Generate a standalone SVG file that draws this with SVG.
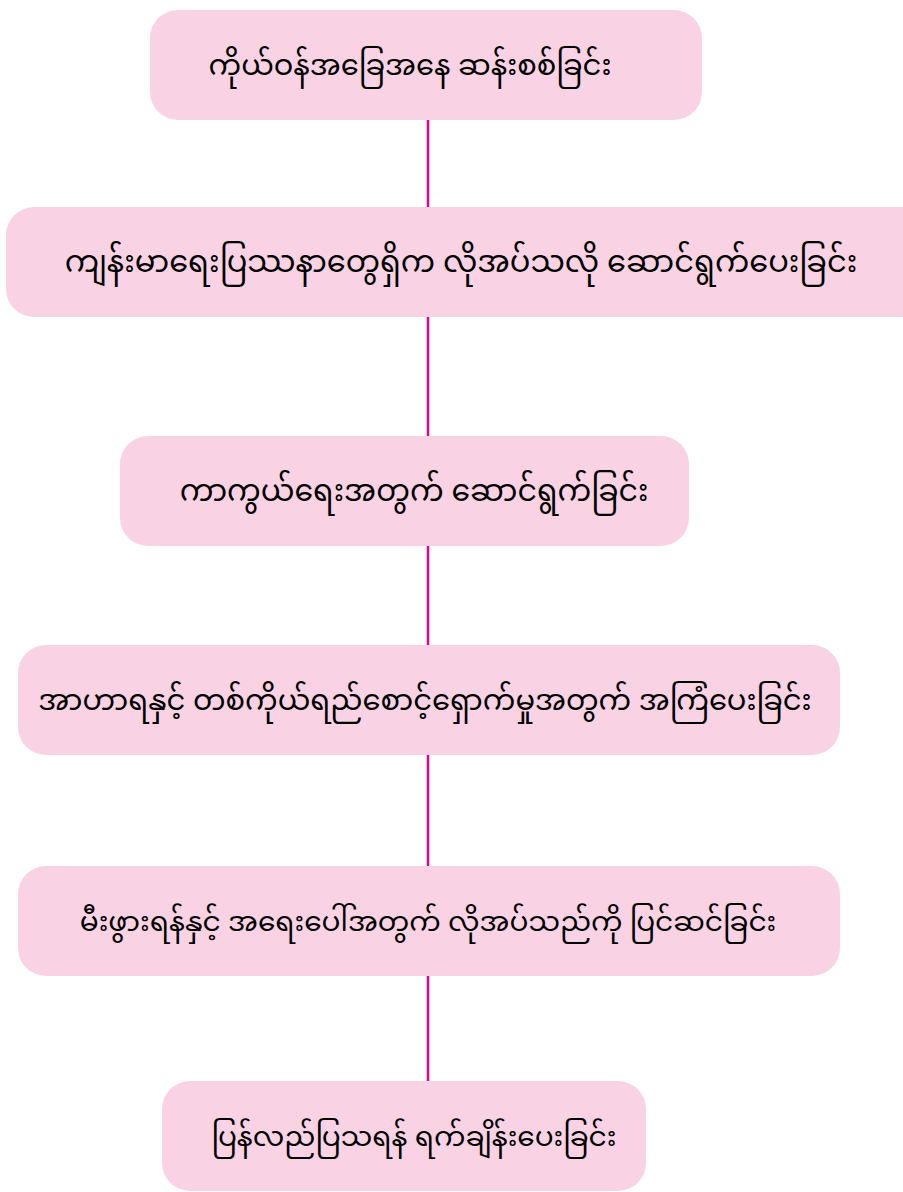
<svg xmlns="http://www.w3.org/2000/svg" width="903" height="1192" viewBox="0 0 903 1192">
<style>
.box{fill:#f9d3e4;}
.t{font-family:"Noto Sans Myanmar","Padauk","Myanmar Text","Noto Sans",sans-serif;font-size:29px;fill:#000;text-anchor:middle;}
.c{stroke:#e6008a;stroke-width:2.5;fill:none;}
</style>
<rect width="903" height="1192" fill="#ffffff"/>
<g id="connectors">
<line class="c" x1="428" y1="120" x2="428" y2="207"/>
<line class="c" x1="428" y1="317" x2="428" y2="436"/>
<line class="c" x1="428" y1="546" x2="428" y2="645"/>
<line class="c" x1="428" y1="755" x2="428" y2="866"/>
<line class="c" x1="428" y1="976" x2="428" y2="1081"/>
</g>
<g id="node1">
<rect class="box" x="150" y="10" width="552" height="110" rx="28"/>
<text class="t" x="410" y="75">ကိုယ်ဝန်အခြေအနေ ဆန်းစစ်ခြင်း</text>
</g>
<g id="node2">
<rect class="box" x="6" y="207" width="928" height="110" rx="28"/>
<text class="t" x="461" y="272" style="font-size:30.5px">ကျန်းမာရေးပြဿနာတွေရှိက လိုအပ်သလို ဆောင်ရွက်ပေးခြင်း</text>
</g>
<g id="node3">
<rect class="box" x="120" y="436" width="569" height="110" rx="28"/>
<text class="t" x="414" y="501" style="font-size:30px">ကာကွယ်ရေးအတွက် ဆောင်ရွက်ခြင်း</text>
</g>
<g id="node4">
<rect class="box" x="18" y="645" width="822" height="110" rx="28"/>
<text class="t" x="425" y="710">အာဟာရနှင့် တစ်ကိုယ်ရည်စောင့်ရှောက်မှုအတွက် အကြံပေးခြင်း</text>
</g>
<g id="node5">
<rect class="box" x="18" y="866" width="822" height="110" rx="28"/>
<text class="t" x="428" y="931" style="font-size:28px">မီးဖွားရန်နှင့် အရေးပေါ်အတွက် လိုအပ်သည်ကို ပြင်ဆင်ခြင်း</text>
</g>
<g id="node6">
<rect class="box" x="162" y="1081" width="484" height="110" rx="28"/>
<text class="t" x="414" y="1146" style="font-size:28px">ပြန်လည်ပြသရန် ရက်ချိန်းပေးခြင်း</text>
</g>
</svg>
